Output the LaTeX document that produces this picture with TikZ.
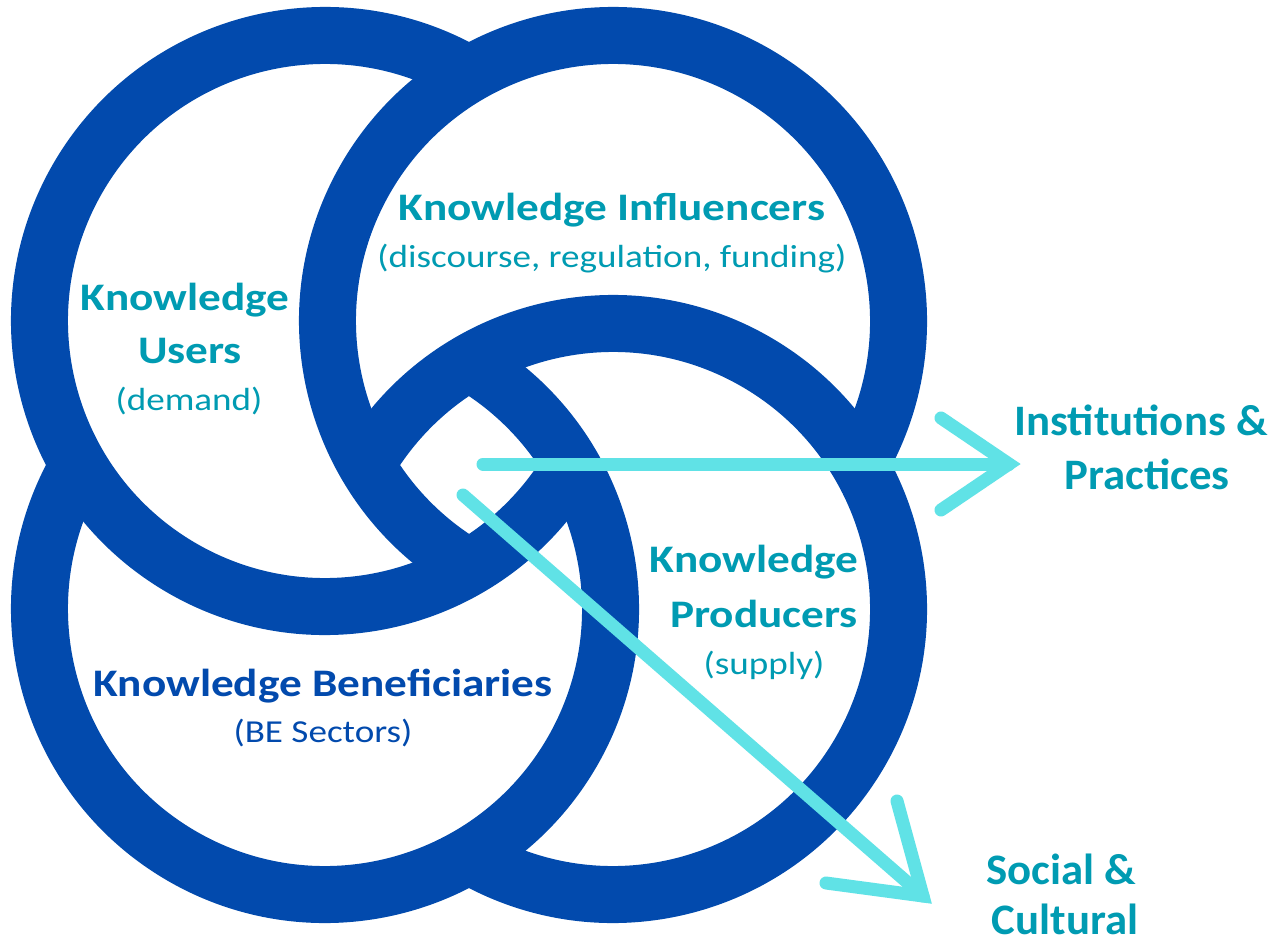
\documentclass[tikz,border=0pt]{standalone}
\usepackage{fontspec}
\setmainfont{Carlito}
\newfontfamily\widefont[FakeStretch=1.16]{Carlito}
\newfontfamily\outerfont[FakeStretch=1.03]{Carlito}
\definecolor{ringblue}{RGB}{2,74,173}
\definecolor{tealtxt}{RGB}{0,155,178}
\definecolor{arrowcyan}{RGB}{96,226,230}
\begin{document}
\begin{tikzpicture}[x=1pt,y=-1pt,
  ringband/.style={draw=ringblue,line width=57pt,line cap=butt},
  arrowline/.style={draw=arrowcyan,line width=13pt,line cap=round,line join=miter},
  ttl/.style={anchor=base,inner sep=0pt,font=\widefont\fontsize{39}{47}\selectfont\bfseries,text=tealtxt},
  sub/.style={anchor=base,inner sep=0pt,font=\widefont\fontsize{32}{38}\selectfont,text=tealtxt},
  outer/.style={anchor=base,inner sep=0pt,font=\outerfont\fontsize{43.5}{52}\selectfont\bfseries,text=tealtxt}]
\useasboundingbox (0,0) rectangle (1276,944);
\fill[white] (0,0) rectangle (1276,944);
% ring centres
\coordinate (U) at (325,321);
\coordinate (I) at (613,321);
\coordinate (P) at (613,609);
\coordinate (B) at (325,609);
% rings: each a 270 degree band, pinwheel overlap
\draw[ringband] (U) ++(-60:285.5) arc[start angle=-60,end angle=-330,radius=285.5];
\draw[ringband] (I) ++(30:285.5) arc[start angle=30,end angle=-240,radius=285.5];
\draw[ringband] (P) ++(120:285.5) arc[start angle=120,end angle=-150,radius=285.5];
\draw[ringband] (B) ++(-150:285.5) arc[start angle=-150,end angle=-420,radius=285.5];
% labels
\node[ttl] (tIa) at (612,220) {Knowledge Influencers};
\node[sub] (tIb) at (612,267) {(discourse, regulation, funding)};
\node[ttl] (tUa) at (185,310) {Knowledge};
\node[ttl] (tUb) at (190,363) {Users};
\node[sub] (tUc) at (189,410) {(demand)};
\node[ttl,text=ringblue] (tBa) at (323,696) {Knowledge Beneficiaries};
\node[sub,text=ringblue] (tBb) at (323,742) {(BE Sectors)};
\node[ttl] (tPa) at (754,572) {Knowledge};
\node[ttl] (tPb) at (764,627) {Producers};
\node[sub] (tPc) at (764,674) {(supply)};
\node[outer] (tOa) at (1141,435) {Institutions \&};
\node[outer] (tOb) at (1147,489) {Practices};
\node[outer] (tSa) at (1061,884) {Social \&};
\node[outer] (tSb) at (1065,934) {Cultural};
% arrows
\coordinate (h0) at (483,464);
\coordinate (h1) at (1009,464);
\coordinate (ha) at (941,418);
\coordinate (hb) at (941,510);
\draw[arrowline] (h0) -- (h1);
\draw[arrowline] (ha) -- (h1) -- (hb);
\coordinate (d0) at (463,495);
\coordinate (d1) at (923,896);
\coordinate (da) at (897,801);
\coordinate (db) at (826,883);
\draw[arrowline] (d0) -- (d1);
\draw[arrowline] (da) -- (d1) -- (db);
\end{tikzpicture}
\end{document}
